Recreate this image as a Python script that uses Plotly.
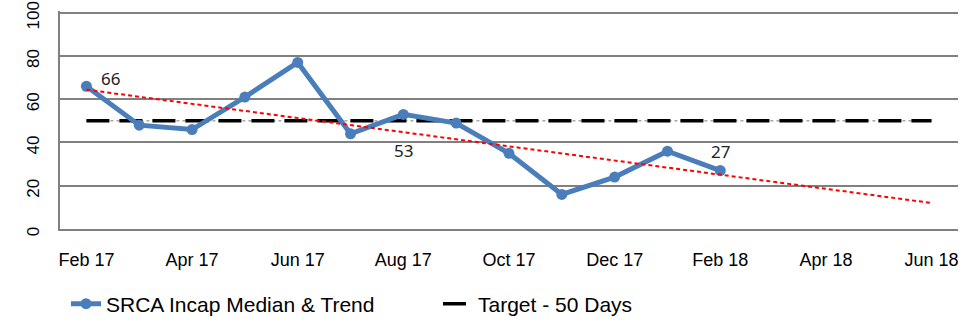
import numpy as np
import plotly.graph_objects as go

months = ["Feb 17", "Mar 17", "Apr 17", "May 17", "Jun 17", "Jul 17", "Aug 17", "Sep 17",
          "Oct 17", "Nov 17", "Dec 17", "Jan 18", "Feb 18", "Mar 18", "Apr 18", "May 18", "Jun 18"]
median_days = [66, 48, 46, 61, 77, 44, 53, 49, 35, 16, 24, 36, 27]
target_days = 50
tick_labels = ["Feb 17", "Apr 17", "Jun 17", "Aug 17", "Oct 17", "Dec 17", "Feb 18", "Apr 18", "Jun 18"]
y_ticks = [0, 20, 40, 60, 80, 100]

x_all = list(range(len(months)))
x_data = x_all[:len(median_days)]
slope, intercept = np.polyfit(x_data, median_days, 1)
trend_x = [x_all[0], x_all[-1]]
trend_y = [intercept + slope * x for x in trend_x]

font_main = "Liberation Sans, Arial"
blue = "#4A7EBB"

fig = go.Figure()
fig.add_trace(go.Scatter(x=x_all, y=[target_days] * len(x_all), mode="lines",
                         line=dict(color="#777777", width=1, dash="dot"),
                         showlegend=False, hoverinfo="skip"))
fig.add_trace(go.Scatter(x=x_all, y=[target_days] * len(x_all), mode="lines",
                         name="Target - 50 Days",
                         line=dict(color="black", width=3.5, dash="23px,10px")))
fig.add_trace(go.Scatter(x=x_data, y=median_days, mode="lines+markers",
                         name="SRCA Incap Median & Trend",
                         line=dict(color=blue, width=5),
                         marker=dict(color=blue, size=11)))
fig.add_trace(go.Scatter(x=trend_x, y=trend_y, mode="lines",
                         line=dict(color="#FF0000", width=2, dash="4px,3px"),
                         showlegend=False, hoverinfo="skip"))

label_idx = [0, 6, 12]
label_pos = [dict(xshift=24, yshift=8), dict(xshift=0, yshift=-36), dict(xshift=0, yshift=19)]
for i, p in zip(label_idx, label_pos):
    fig.add_annotation(x=x_data[i], y=median_days[i], text=str(median_days[i]), showarrow=False,
                       font=dict(family="Noto Sans, Open Sans", size=17, color="#222222"), **p)

fig.update_layout(
    width=963, height=322,
    margin=dict(l=60, r=5, t=11, b=93, autoexpand=False),
    paper_bgcolor="white", plot_bgcolor="white",
    showlegend=True,
    legend=dict(orientation="h", xref="container", yref="container", x=66 / 963, y=(322 - 304) / 322,
                xanchor="left", yanchor="middle",
                font=dict(family=font_main, size=21, color="black"),
                traceorder="reversed", itemwidth=30, entrywidth=327),
    xaxis=dict(range=[-0.5, 16.5], tickmode="array", tickvals=[x_all[months.index(t)] for t in tick_labels],
               ticktext=tick_labels, showgrid=False, zeroline=False,
               showline=True, linecolor="#808080", linewidth=2,
               tickfont=dict(family=font_main, size=18, color="black"), ticks="",
               ticklabelstandoff=13),
    yaxis=dict(range=[0, 100.8], tickmode="array", tickvals=y_ticks, tickangle=-90,
               showgrid=True, gridcolor="#808080", gridwidth=2, zeroline=False,
               showline=True, linecolor="#808080", linewidth=2,
               tickfont=dict(family=font_main, size=17, color="black"), ticks="",
               ticklabelstandoff=12, ticklabelshift=5, ticklabeloverflow="allow"),
)
fig.write_html("out.html")
